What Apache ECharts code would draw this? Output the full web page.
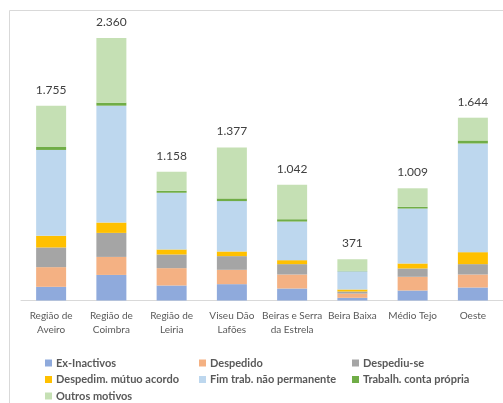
<!DOCTYPE html>
<html>
<head>
<meta charset="utf-8">
<script src="https://cdn.jsdelivr.net/npm/echarts@6/dist/echarts.min.js"></script>
<style>html,body{margin:0;padding:0;background:#fff}#c{width:503px;height:403px}</style>
</head>
<body>
<div id="c"></div>
<script>
const categories = ["Região de\nAveiro","Região de\nCoimbra","Região de\nLeiria","Viseu Dão\nLafões","Beiras e Serra\nda Estrela","Beira Baixa","Médio Tejo","Oeste"];
const totals = [1755, 2360, 1158, 1377, 1042, 371, 1009, 1644];
const exInactivos = [123, 230, 135, 147, 108, 24, 90, 117];
const despedido = [177, 162, 156, 129, 126, 39, 123, 117];
const despediuSe = [177, 216, 123, 123, 93, 18, 75, 93];
const mutuoAcordo = [105, 93, 45, 42, 36, 18, 45, 108];
const fimTrab = [772, 1051, 510, 453, 347, 164, 494, 977];
const contaPropria = [27, 27, 18, 24, 21, 3, 15, 27];
const outrosMotivos = [371, 581, 171, 459, 311, 105, 167, 205];

const seriesNames = ["Ex-Inactivos","Despedido","Despediu-se","Despedim. mútuo acordo","Fim trab. não permanente","Trabalh. conta própria","Outros motivos"];
const seriesData = [exInactivos, despedido, despediuSe, mutuoAcordo, fimTrab, contaPropria, outrosMotivos];
const colors = ["#8faadc","#f4b183","#a5a5a5","#ffc000","#bdd7ee","#70ad47","#c5e0b4"];

function fmt(v){ return String(v).replace(/\B(?=(\d{3})+(?!\d))/g, "."); }

const font = "Lato, 'Noto Sans', sans-serif";
const chart = echarts.init(document.getElementById('c'), null, {renderer:'canvas'});

const series = seriesNames.map((n, i) => ({
  name: n, type: 'bar', stack: 'all', barWidth: 30,
  itemStyle: { color: colors[i] },
  data: seriesData[i],
  label: i === seriesNames.length - 1 ? {
    show: true, position: 'top', distance: 10,
    formatter: p => fmt(totals[p.dataIndex]),
    color: '#404040', fontSize: 12, fontFamily: font
  } : { show: false }
}));

const legendBase = {
  orient: 'vertical', itemWidth: 7, itemHeight: 7, itemGap: 4.5, padding: 0,
  icon: 'rect', selectedMode: false,
  textStyle: { color: '#595959', fontSize: 11, fontWeight: 'bold', fontFamily: font, lineHeight: 12, padding: [0,0,0,-1] }
};

chart.setOption({
  animation: false,
  color: colors,
  graphic: [{ type: 'rect', shape: { x: 9.5, y: 10.5, width: 600, height: 500 }, style: { fill: 'none', stroke: '#d9d9d9', lineWidth: 1 }, silent: true }],
  grid: { left: 21, right: 0, top: 22.5, bottom: 102.5 },
  xAxis: {
    type: 'category', data: categories,
    axisLine: { lineStyle: { color: '#d9d9d9' } },
    axisTick: { show: false },
    axisLabel: { color: '#595959', fontSize: 10, fontFamily: font, lineHeight: 14, margin: 8, interval: 0 }
  },
  yAxis: { type: 'value', min: 0, max: 2500, show: false, splitLine: { show: false } },
  legend: [
    Object.assign({}, legendBase, { left: 45, top: 357, data: ["Ex-Inactivos","Despedim. mútuo acordo","Outros motivos"] }),
    Object.assign({}, legendBase, { left: 199, top: 357, data: ["Despedido","Fim trab. não permanente"] }),
    Object.assign({}, legendBase, { left: 352, top: 357, data: ["Despediu-se","Trabalh. conta própria"] })
  ],
  series: series
});
</script>
</body>
</html>
